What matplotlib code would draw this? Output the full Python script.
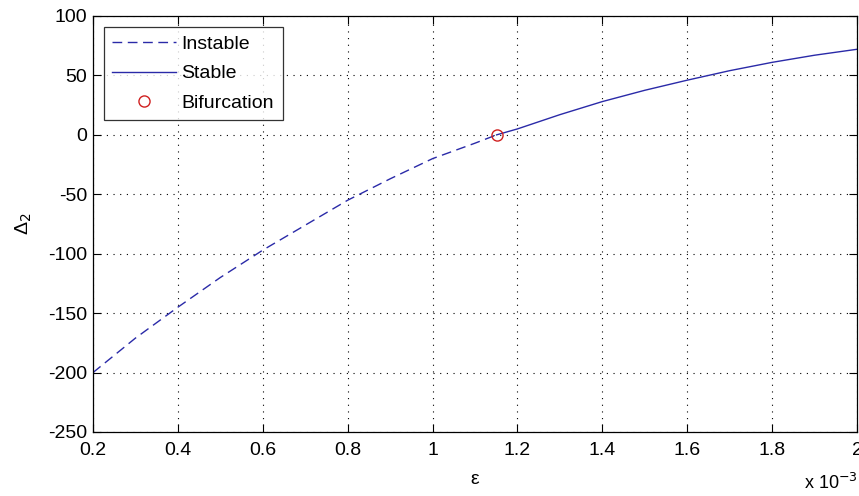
import matplotlib
matplotlib.use('Agg')
import matplotlib.pyplot as plt

plt.rcParams['font.family'] = ['Liberation Sans', 'DejaVu Sans']
plt.rcParams['axes.unicode_minus'] = False

# epsilon in units of 1e-3
eps_instable = [0.2, 0.3, 0.4, 0.5, 0.6, 0.7, 0.8, 0.9, 1.0, 1.1, 1.151]
delta_instable = [-200, -171, -145, -120, -97, -76, -55, -37, -20, -7, 0]
eps_stable = [1.151, 1.2, 1.3, 1.4, 1.5, 1.6, 1.7, 1.8, 1.9, 2.0]
delta_stable = [0, 5, 17, 28, 37.5, 46, 54, 61, 67, 72]
eps_bif = [1.151]
delta_bif = [0]

x_ticks = [0.2, 0.4, 0.6, 0.8, 1.0, 1.2, 1.4, 1.6, 1.8, 2.0]
x_labels = ['0.2', '0.4', '0.6', '0.8', '1', '1.2', '1.4', '1.6', '1.8', '2']
y_ticks = [-250, -200, -150, -100, -50, 0, 50, 100]

fig = plt.figure(figsize=(8.59, 4.96), dpi=100)
ax = fig.add_axes([93 / 859, 1 - 432 / 496, (857 - 93) / 859, (432 - 16) / 496])

line_color = '#2a2aa8'
ax.plot(eps_instable, delta_instable, color=line_color, lw=1.0,
        dashes=(7, 4), label='Instable')
ax.plot(eps_stable, delta_stable, color=line_color, lw=1.0, label='Stable')
ax.plot(eps_bif, delta_bif, 'o', mfc='none', mec='#d02020', mew=1.0,
        ms=8, label='Bifurcation')

ax.set_xlim(0.2, 2.0)
ax.set_ylim(-250, 100)
ax.set_xticks(x_ticks)
ax.set_xticklabels(x_labels)
ax.set_yticks(y_ticks)
ax.tick_params(direction='in', length=5.5, width=0.8, top=True, right=True,
               labelsize=14, colors='black')
ax.tick_params(axis='x', pad=7)
ax.tick_params(axis='y', pad=4)
ax.grid(True, color='black', linestyle=(0, (1, 5)), linewidth=0.8)
for s in ax.spines.values():
    s.set_linewidth(0.9)

ax.set_xlabel('ε', fontsize=14, labelpad=9)
ax.set_ylabel('Δ$_2$', fontsize=14, labelpad=10)
fig.text(831 / 859, 1 - 483 / 496, 'x 10$^{-3}$', fontsize=13,
         ha='center', va='center')

leg = ax.legend(loc='upper left', fontsize=14, frameon=True, fancybox=False,
                edgecolor='black', handlelength=3.25, handletextpad=0.3,
                borderpad=0.45, labelspacing=0.6, borderaxespad=0.55)
leg.get_frame().set_linewidth(0.9)

fig.savefig('out.png', dpi=100)
